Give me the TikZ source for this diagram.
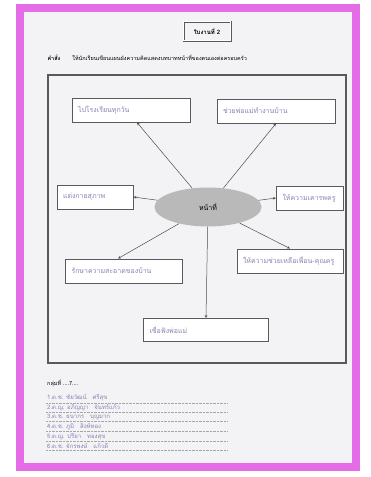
\documentclass[tikz,border=0pt]{standalone}
\usepackage{fontspec}
\newfontfamily\thaifont[Script=Thai]{Loma}
\usetikzlibrary{shapes.geometric,arrows.meta,positioning}
\definecolor{frame}{HTML}{E46CE6}
\definecolor{paper}{HTML}{F3F3F6}
\definecolor{ink}{HTML}{8A82B2}
\definecolor{boxline}{HTML}{58585E}

\begin{document}
\begin{tikzpicture}[x=1pt, y=-1pt, >={Stealth[length=3pt,width=2.6pt]},
    idea/.style={draw=boxline, line width=0.9pt, fill=white, rectangle, minimum height=24pt,
      text width=#1, align=left, inner xsep=6pt, text=ink,
      font=\thaifont\fontsize{7}{8}\selectfont},
    link/.style={->, draw=black!70, line width=0.5pt},
    member/.style={anchor=west, inner sep=1pt, text=ink, font=\thaifont\fontsize{6}{7}\selectfont}]
        \useasboundingbox (0,0) rectangle (370,477);
        % Page and frame
        \fill[white] (0,0) rectangle (370,477);
        \draw[frame, fill=paper, line width=8pt] (20,8) rectangle (356,467);

        % Heading
        \node (title) [draw=boxline, double, double distance=1pt, line width=0.5pt,
          minimum width=47pt, minimum height=19pt, font=\thaifont\bfseries\fontsize{6}{7}\selectfont]
          at (207,31) {ใบงานที่ 2};
        \node (task) [anchor=west, font=\thaifont\fontsize{5.5}{6}\selectfont]
          at (44,58) {\textbf{คำสั่ง}\hspace{12pt}ให้นักเรียนเขียนแผนผังความคิดแสดงบทบาทหน้าที่ของตนเองต่อครอบครัว};

        % Board
        \node (board) [draw=boxline, line width=1.2pt, minimum width=298pt, minimum height=288pt] at (197,219) {};

        % Nodes
        \node (duty) [ellipse, fill=gray!55, minimum width=107pt, minimum height=39pt,
          font=\thaifont\fontsize{7}{8}\selectfont] at (208,207) {หน้าที่};
        \node (tl) [idea=106pt] at (131,110) {ไปโรงเรียนทุกวัน};
        \node (tr) [idea=106pt] at (276,111) {ช่วยพ่อแม่ทำงานบ้าน};
        \node (lt) [idea=64pt] at (95,197) {แต่งกายสุภาพ};
        \node (rt) [idea=55pt] at (310,198) {ให้ความเคารพครู};
        \node (ll) [idea=105pt] at (124,271) {รักษาความสะอาดของบ้าน};
        \node (lr) [idea=94pt] at (290,261) {ให้ความช่วยเหลือเพื่อน-คุณครู};
        \node (bt) [idea=113pt, minimum height=23pt] at (206,330) {เชื่อฟังพ่อแม่};

        % Links
        \draw[link] (duty) -- ([xshift=6pt]tl.south);
        \draw[link] (duty) -- (tr.south);
        \draw[link] (duty) -- (lt.east);
        \draw[link] (duty) -- (rt.west);
        \draw[link] (duty) -- ([xshift=-6pt]ll.north);
        \draw[link] (duty) -- (lr.north);
        \draw[link] (duty) -- (bt.north);

        % Group members
        \node (group) [anchor=west, inner sep=1pt, font=\thaifont\fontsize{5.5}{6}\selectfont] at (46,383) {กลุ่มที่ ....7....};
        \foreach \who [count=\i] in {1.ด.ช. ชัยวัฒน์\quad ศรีสุข, 2.ด.ญ. อภิญญา\quad จันทร์แก้ว,
            3.ด.ช. ธนากร\quad บุญมาก, 4.ด.ช. ภูมิ\quad สิงห์ทอง,
            5.ด.ญ. ปรียา\quad ทองสุข, 6.ด.ช. จักรพงษ์\quad แก้วดี} {
          \node (m\i) [member] at (46,388.5+9.6*\i) {\who};
          \draw[gray!70, densely dotted, line width=0.4pt] (m\i.south west) -- ++(181,0);
        }
\end{tikzpicture}
\end{document}
